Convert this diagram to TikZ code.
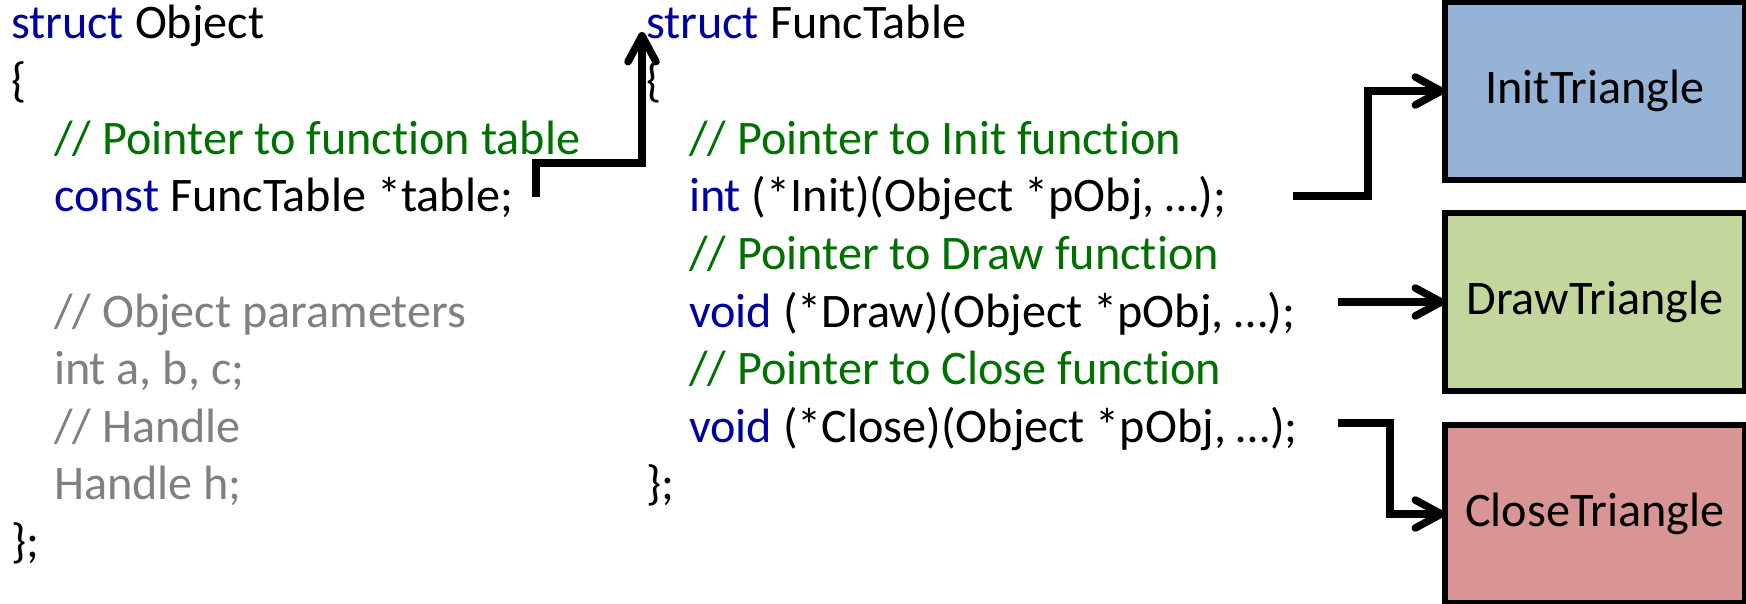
\documentclass[tikz,border=0pt]{standalone}
\usepackage{fontspec}
\setmainfont{Carlito}[Ligatures=CommonOff]
\usetikzlibrary{arrows.meta}

\definecolor{kw}{RGB}{0,0,160}
\definecolor{cmt}{RGB}{0,112,0}
\definecolor{dim}{RGB}{128,128,128}
\definecolor{initfill}{RGB}{149,179,215}
\definecolor{drawfill}{RGB}{195,214,155}
\definecolor{closefill}{RGB}{217,149,148}

\tikzset{
  code/.style={anchor=base west, inner sep=0pt, outer sep=0pt},
  fnbox/.style={draw=black, line width=5.5pt, minimum width=300pt, minimum height=178pt,
    inner sep=0pt, outer sep=0pt},
  ptr/.style={line width=7.5pt, line join=miter,
    -{Straight Barb[length=26pt, width=28pt, round]}},
}

\begin{document}
\begin{tikzpicture}[x=1pt, y=-1pt]
  \fontsize{48.2}{57.6}\selectfont
  \useasboundingbox (0,0) rectangle (1746,604);

  % struct Object
  \node[code] (o0) at (11,39)    {\textcolor{kw}{struct} Object};
  \node[code] (o1) at (11,96.6)  {\{};
  \node[code] (o2) at (54,154.2) {\textcolor{cmt}{// Pointer to function table}};
  \node[code] (o3) at (54,211.8) {\textcolor{kw}{const} FuncTable *table;};
  \node[code] (o5) at (54,327)   {\textcolor{dim}{// Object parameters}};
  \node[code] (o6) at (54,384.6) {\textcolor{dim}{int a, b, c;}};
  \node[code] (o7) at (54,442.2) {\textcolor{dim}{// Handle}};
  \node[code] (o8) at (54,499.8) {\textcolor{dim}{Handle h;}};
  \node[code] (o9) at (11,557.4) {\};};

  % struct FuncTable
  \node[code] (f0) at (646,39)    {\textcolor{kw}{struct} FuncTable};
  \node[code] (f1) at (646,96.6)  {\{};
  \node[code] (f2) at (689,154.2) {\textcolor{cmt}{// Pointer to Init function}};
  \node[code] (f3) at (689,211.8) {\textcolor{kw}{int} (*Init)(Object *pObj, …);};
  \node[code] (f4) at (689,269.4) {\textcolor{cmt}{// Pointer to Draw function}};
  \node[code] (f5) at (689,327)   {\textcolor{kw}{void} (*Draw)(Object *pObj, …);};
  \node[code] (f6) at (689,384.6) {\textcolor{cmt}{// Pointer to Close function}};
  \node[code] (f7) at (689,442.2) {\textcolor{kw}{void} (*Close)(Object *pObj, …);};
  \node[code] (f8) at (646,499.8) {\};};

  % target functions
  \node[fnbox, fill=initfill]  (init)  at (1595,91)  {InitTriangle};
  \node[fnbox, fill=drawfill]  (drawf) at (1595,302) {DrawTriangle};
  \node[fnbox, fill=closefill] (close) at (1595,514) {CloseTriangle};

  % pointer sources
  \coordinate (tblsrc)   at (536,197);
  \coordinate (tbltip)   at (642,32);
  \coordinate (initsrc)  at (1293,196);
  \coordinate (drawsrc)  at (1338,302);
  \coordinate (closesrc) at (1338,423);

  \draw[ptr] (tblsrc) -- ++(0,-34) -| (tbltip);
  \draw[ptr] (initsrc) -- ++(75,0) |- (init.west);
  \draw[ptr] (drawsrc) -- (drawf.west);
  \draw[ptr] (closesrc) -- ++(52,0) |- (close.west);
\end{tikzpicture}
\end{document}
